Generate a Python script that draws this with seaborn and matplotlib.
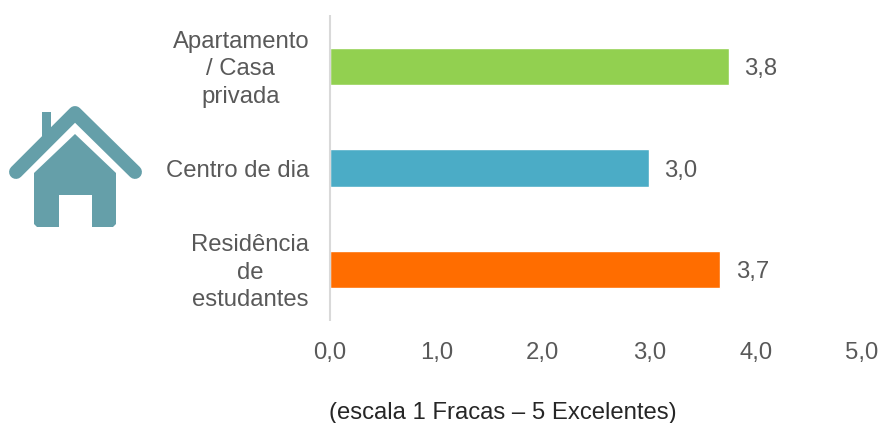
import matplotlib
matplotlib.use("Agg")
import matplotlib.pyplot as plt
from matplotlib.patches import Polygon, Rectangle
from matplotlib.transforms import ScaledTranslation
import seaborn as sns
import pandas as pd

categories = ["Apartamento\n/ Casa\nprivada", "Centro de dia", "Residência\nde\nestudantes"]
values = [3.75, 3.0, 3.67]
value_labels = ["3,8", "3,0", "3,7"]
colors = ["#92D050", "#4BACC6", "#FF6D00"]
x_ticks = [0, 1, 2, 3, 4, 5]
x_tick_labels = ["0,0", "1,0", "2,0", "3,0", "4,0", "5,0"]
note = "(escala 1 Fracas – 5 Excelentes)"

sns.set_theme(style="white")
plt.rcParams["font.family"] = ["Liberation Sans", "DejaVu Sans"]
TEXT = "#595959"
FS = 17.2
W, H = 881, 423
fig = plt.figure(figsize=(W / 100, H / 100), dpi=100, facecolor="white")
ax = fig.add_axes([330 / W, 1 - 320.5 / H, 532 / W, 305 / H])

df = pd.DataFrame({"cat": categories, "val": values})
sns.barplot(data=df, y="cat", x="val", hue="cat", palette=colors, legend=False,
            width=0.37, saturation=1, ax=ax)
ax.set_xlim(0, 5)
ax.set_xlabel("")
ax.set_ylabel("")
ax.set_xticks(x_ticks)
ax.set_xticklabels(x_tick_labels, fontsize=FS, color=TEXT)
ax.set_yticks(range(len(categories)))
ax.set_yticklabels(categories, fontsize=FS, color=TEXT, ma="center", va="center", linespacing=1.32)
ax.tick_params(axis="x", length=0, pad=15.5)
ax.tick_params(axis="y", length=0, pad=15)
shift = ScaledTranslation(0, -3 / 100, fig.dpi_scale_trans)
for lab in ax.get_yticklabels():
    lab.set_transform(lab.get_transform() + shift)
for s in ["top", "right", "bottom"]:
    ax.spines[s].set_visible(False)
ax.spines["left"].set_color("#D9D9D9")
ax.spines["left"].set_linewidth(1.5)
ax.spines["left"].set_capstyle("butt")
for cont, lab in zip(ax.containers, value_labels):
    for t in ax.bar_label(cont, labels=[lab], padding=11, fontsize=FS, color=TEXT):
        t.set_verticalalignment("center_baseline")

fig.text(503 / W, 1 - 413 / H, note, fontsize=FS, color="#262626", ha="center", va="center")

# house icon, in pixel coordinates
icon = fig.add_axes([0, 0, 1, 1], facecolor="none")
icon.set_xlim(0, W)
icon.set_ylim(H, 0)
icon.axis("off")
HOUSE = "#659FA9"
icon.add_patch(Rectangle((42, 112), 9, 24, color=HOUSE, lw=0))
icon.plot([16, 75, 135], [172, 113, 172], color=HOUSE, lw=10,
          solid_capstyle="round", solid_joinstyle="round")
icon.add_patch(Polygon([(34, 173), (75, 134), (116, 173), (116, 224), (113, 227), (92, 227),
                        (92, 195), (59, 195), (59, 227), (37, 227), (34, 224)],
                       closed=True, color=HOUSE, lw=0))
fig.savefig("out.png", dpi=100)
